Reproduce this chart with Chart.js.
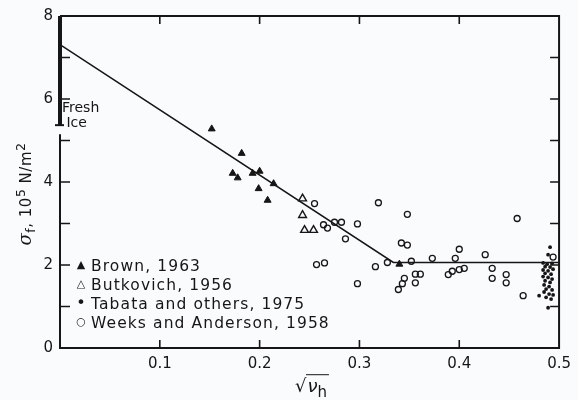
<!DOCTYPE html>
<html><head><meta charset="utf-8">
<script src="https://cdn.jsdelivr.net/npm/chart.js@4/dist/chart.umd.min.js"></script>
<style>
body{margin:0;background:#fafbfc;}
#wrap{position:relative;width:578px;height:400px;font-family:"DejaVu Sans",sans-serif;color:#161616;background:#fafbfc;overflow:hidden;}
canvas{position:absolute;left:0;top:0;}
#legend{position:absolute;left:74px;top:257px;font-size:15.5px;line-height:19px;white-space:nowrap;letter-spacing:1.1px;}
#legend .sym{display:inline-block;width:14px;text-align:center;font-size:11px;vertical-align:middle;position:relative;top:-2px;letter-spacing:0;}
#legend .sym.dot{font-size:16px;}
#legend .sym.circ{font-size:11px;}
#legend .txt{margin-left:3px;}
#ytitle{position:absolute;left:25px;top:194px;transform:translate(-50%,-50%) rotate(-90deg);font-size:15px;white-space:nowrap;letter-spacing:0.5px;}
#ytitle i{font-family:"DejaVu Serif",serif;font-size:18px;}
#xtitle{position:absolute;left:312px;top:388px;transform:translate(-50%,-50%);font-size:18px;white-space:nowrap;}
#xtitle .ov{border-top:1.6px solid #161616;padding:0 2px 0 1px;}
#fresh{position:absolute;left:62px;top:100px;font-size:14px;line-height:15px;white-space:nowrap;}
</style></head><body>
<div id="wrap">
<canvas id="c" width="578" height="400"></canvas>
<div id="legend">
<div><span class="sym">▲</span><span class="txt">Brown, 1963</span></div>
<div><span class="sym">△</span><span class="txt">Butkovich, 1956</span></div>
<div><span class="sym dot">•</span><span class="txt">Tabata and others, 1975</span></div>
<div><span class="sym circ">○</span><span class="txt">Weeks and Anderson, 1958</span></div>
</div>
<div id="ytitle"><i>σ</i><sub>f</sub>, 10<sup>5</sup> N/m<sup>2</sup></div>
<div id="xtitle">√<span class="ov"><i>ν</i><sub>h</sub></span></div>
<div id="fresh">Fresh<br>&nbsp;Ice</div>
</div>
<script>
// ---- data ----
const brownX = [0.152, 0.182, 0.173, 0.178, 0.193, 0.200, 0.214, 0.199, 0.208, 0.340];
const brownY = [5.28, 4.69, 4.21, 4.10, 4.21, 4.26, 3.96, 3.84, 3.56, 2.02];

const butkovichX = [0.243, 0.243, 0.245, 0.254];
const butkovichY = [3.60, 3.20, 2.84, 2.84];

const tabataX = [0.491,0.489,0.484,0.488,0.493,0.486,0.491,0.484,0.489,0.494,0.486,0.492,0.484,0.489,0.493,0.486,0.491,0.485,0.490,0.487,0.493,0.485,0.490,0.494,0.487,0.492,0.480,0.489];
const tabataY = [2.43,2.25,2.05,2.02,2.04,1.96,1.95,1.88,1.86,1.90,1.80,1.78,1.72,1.70,1.66,1.62,1.58,1.52,1.48,1.42,1.40,1.35,1.30,1.28,1.22,1.18,1.26,0.97];

const weeksX = [0.255,0.264,0.268,0.275,0.282,0.298,0.286,0.257,0.265,0.298,
  0.319,0.348,0.342,0.348,0.316,0.328,0.352,0.373,0.345,0.343,0.339,0.356,0.361,0.356,0.389,0.393,0.400,0.405,0.396,0.400,
  0.426,0.433,0.433,0.447,0.447,0.458,0.464,0.494];
const weeksY = [3.48,2.97,2.89,3.03,3.03,2.99,2.63,2.01,2.05,1.55,
  3.50,3.22,2.53,2.48,1.96,2.06,2.09,2.16,1.68,1.55,1.41,1.78,1.78,1.57,1.77,1.85,1.89,1.92,2.16,2.38,
  2.25,1.92,1.68,1.77,1.57,3.12,1.26,2.19];

const fitX = [0, 0.334, 0.5];
const fitY = [7.31, 2.06, 2.06];

const freshIceRange = [8, 5.37];   // thick "fresh ice" bar on the axis
const axisGapBottom = 5.15;        // axis resumes below the bar
const yMinorTicks = [1, 2, 3, 4, 5, 6, 7];
const xMinorTicks = [0.1, 0.2, 0.3, 0.4];

const ink = '#161616';
const pts = (xs, ys) => xs.map((x, i) => ({x, y: ys[i]}));

const framePlugin = {
  id: 'frame',
  afterDatasetsDraw(chart) {
    const {ctx, chartArea: a, scales: {x, y}} = chart;
    ctx.save();
    ctx.strokeStyle = ink;
    ctx.lineWidth = 2;
    ctx.beginPath();
    ctx.moveTo(a.left, y.getPixelForValue(axisGapBottom));
    ctx.lineTo(a.left, a.bottom);
    ctx.lineTo(a.right, a.bottom);
    ctx.lineTo(a.right, a.top);
    ctx.lineTo(a.left, a.top);
    ctx.stroke();
    // inward ticks
    ctx.lineWidth = 1.6;
    ctx.beginPath();
    yMinorTicks.forEach(v => {
      const py = y.getPixelForValue(v);
      ctx.moveTo(a.left, py); ctx.lineTo(a.left + 10, py);
      ctx.moveTo(a.right, py); ctx.lineTo(a.right - 9, py);
    });
    xMinorTicks.forEach(v => {
      const px = x.getPixelForValue(v);
      ctx.moveTo(px, a.bottom); ctx.lineTo(px, a.bottom - 8);
      ctx.moveTo(px, a.top); ctx.lineTo(px, a.top + 8);
    });
    ctx.stroke();
    // fresh ice bar
    const y0 = y.getPixelForValue(freshIceRange[0]);
    const y1 = y.getPixelForValue(freshIceRange[1]);
    ctx.lineWidth = 4;
    ctx.beginPath();
    ctx.moveTo(a.left, y0); ctx.lineTo(a.left, y1);
    ctx.stroke();
    ctx.lineWidth = 2;
    ctx.beginPath();
    ctx.moveTo(a.left - 5, y1); ctx.lineTo(a.left + 4, y1);
    ctx.stroke();
    ctx.restore();
  }
};

new Chart(document.getElementById('c'), {
  type: 'scatter',
  data: {
    datasets: [
      {label: 'Regression', data: pts(fitX, fitY), showLine: true, borderColor: ink, borderWidth: 1.6, pointRadius: 0, fill: false},
      {label: 'Brown, 1963', data: pts(brownX, brownY), pointStyle: 'triangle', pointRadius: 4, backgroundColor: ink, borderColor: ink, borderWidth: 1},
      {label: 'Butkovich, 1956', data: pts(butkovichX, butkovichY), pointStyle: 'triangle', pointRadius: 4.5, backgroundColor: 'rgba(0,0,0,0)', borderColor: ink, borderWidth: 1.4},
      {label: 'Weeks and Anderson, 1958', data: pts(weeksX, weeksY), pointStyle: 'circle', pointRadius: 3, backgroundColor: 'rgba(0,0,0,0)', borderColor: ink, borderWidth: 1.3},
      {label: 'Tabata and others, 1975', data: pts(tabataX, tabataY), pointStyle: 'circle', pointRadius: 1.9, backgroundColor: ink, borderColor: ink, borderWidth: 0}
    ]
  },
  options: {
    responsive: false,
    animation: false,
    devicePixelRatio: 1,
    layout: {padding: {top: 14, right: 12, left: 0, bottom: 0}},
    plugins: {legend: {display: false}, tooltip: {enabled: false}},
    scales: {
      x: {
        type: 'linear', min: 0, max: 0.5,
        grid: {display: false, drawTicks: false},
        border: {display: false},
        ticks: {stepSize: 0.1, padding: 7, color: ink, font: {family: 'DejaVu Sans', size: 15},
          callback: v => (v === 0 ? '' : v.toFixed(1))},
        afterFit: s => { s.height = 52; }
      },
      y: {
        type: 'linear', min: 0, max: 8,
        grid: {display: false, drawTicks: false},
        border: {display: false},
        ticks: {stepSize: 2, padding: 7, color: ink, font: {family: 'DejaVu Sans', size: 15}},
        afterFit: s => { s.width = 60; }
      }
    }
  },
  plugins: [framePlugin]
});
</script>
</body></html>
